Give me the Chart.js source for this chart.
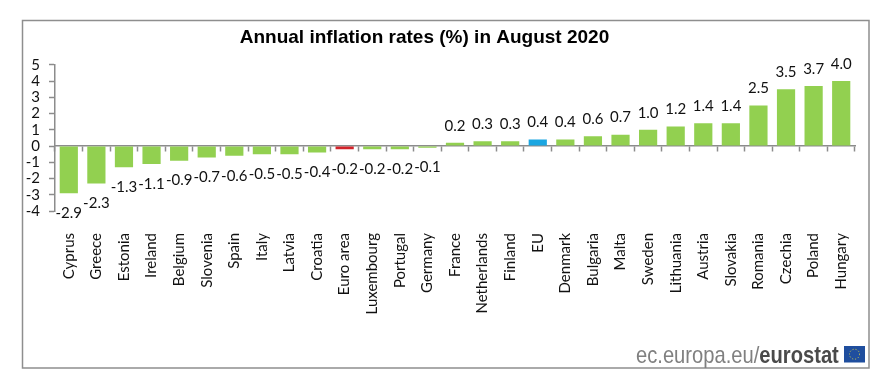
<!DOCTYPE html>
<html lang="en">
<head>
  <meta charset="UTF-8" />
  <title>Annual inflation rates</title>
  <script src="https://cdn.jsdelivr.net/npm/chart.js"></script>
  <style>
    body { margin: 0; padding: 0; background: #fff; }
    canvas { display: block; }
  </style>
</head>
<body>
  <canvas id="chart" width="891" height="388"></canvas>

  <script>
    const countries = ['Cyprus', 'Greece', 'Estonia', 'Ireland', 'Belgium', 'Slovenia', 'Spain', 'Italy', 'Latvia', 'Croatia',
      'Euro area', 'Luxembourg', 'Portugal', 'Germany', 'France', 'Netherlands', 'Finland', 'EU', 'Denmark', 'Bulgaria',
      'Malta', 'Sweden', 'Lithuania', 'Austria', 'Slovakia', 'Romania', 'Czechia', 'Poland', 'Hungary'];
    const rates = [-2.9, -2.3, -1.3, -1.1, -0.9, -0.7, -0.6, -0.5, -0.5, -0.4,
      -0.2, -0.2, -0.2, -0.1, 0.2, 0.3, 0.3, 0.4, 0.4, 0.6,
      0.7, 1.0, 1.2, 1.4, 1.4, 2.5, 3.5, 3.7, 4.0];
    const barColors = countries.map(c => c === 'Euro area' ? '#D2232A' : c === 'EU' ? '#1BA6E1' : '#92D050');

    const font = 'Lato, sans-serif';
    const axisGrey = '#8C8C8C';

    // frame, eurostat logo, value labels
    const extras = {
      id: 'extras',
      afterLayout(chart) {
        // the title sits left of the frame centre in the original
        chart.titleBlock.right -= 6;
      },
      beforeDraw(chart) {
        const ctx = chart.ctx;
        ctx.save();
        ctx.strokeStyle = '#8E8E8E';
        ctx.lineWidth = 1.5;
        ctx.strokeRect(22.5, 20.5, 846.5, 347.5);

        // logo text is condensed in the original
        ctx.save();
        ctx.translate(636, 363);
        ctx.scale(0.84, 1);
        ctx.textBaseline = 'alphabetic';
        ctx.textAlign = 'left';
        ctx.fillStyle = '#808080';
        ctx.font = '24px "Liberation Sans"';
        const first = 'ec.europa.eu/';
        ctx.fillText(first, 0, 0);
        const w = ctx.measureText(first).width;
        ctx.fillStyle = '#4A4A4A';
        ctx.font = 'bold 24px "Liberation Sans"';
        ctx.fillText('eurostat', w, 0);
        ctx.restore();

        ctx.fillStyle = '#1F4E9E';
        ctx.fillRect(844, 346, 21, 16.5);
        ctx.strokeStyle = '#D8D24A';
        ctx.lineWidth = 1;
        ctx.setLineDash([1, 2]);
        ctx.beginPath();
        ctx.arc(854.5, 354.2, 5, 0, Math.PI * 2);
        ctx.stroke();
        ctx.restore();
      },
      afterDatasetsDraw(chart) {
        const ctx = chart.ctx;
        const bars = chart.getDatasetMeta(0).data;
        ctx.save();
        ctx.font = '15px ' + font;
        ctx.fillStyle = '#111';
        ctx.textAlign = 'center';
        ctx.textBaseline = 'middle';
        bars.forEach((bar, i) => {
          const v = rates[i];
          ctx.fillText(v.toFixed(1), bar.x, bar.y + (v < 0 ? 20 : -17));
        });
        ctx.restore();
      }
    };

    new Chart(document.getElementById('chart'), {
      type: 'bar',
      data: {
        labels: countries,
        datasets: [{
          data: rates,
          backgroundColor: barColors,
          categoryPercentage: 1,
          barPercentage: 0.66
        }]
      },
      options: {
        responsive: false,
        animation: false,
        layout: { padding: { top: 26, right: 36, left: 0, bottom: 0 } },
        plugins: {
          legend: { display: false },
          tooltip: { enabled: false },
          title: {
            display: true,
            text: 'Annual inflation rates (%) in August 2020',
            color: '#000',
            font: { family: '"Liberation Sans"', size: 19, weight: 'bold' },
            padding: { top: 0, bottom: 16 }
          }
        },
        scales: {
          x: {
            position: 'bottom',
            grid: { display: false },
            border: { display: false },
            ticks: {
              autoSkip: false,
              minRotation: 90,
              maxRotation: 90,
              padding: 14,
              color: '#111',
              font: { family: font, size: 15 }
            },
            afterFit(scale) { scale.height = 177; }
          },
          // zero line with the tick marks between the bars
          x2: {
            type: 'category',
            labels: countries,
            position: { y: 0 },
            offset: true,
            ticks: { display: false },
            border: { color: axisGrey, width: 1.5 },
            grid: { offset: true, drawOnChartArea: false, tickLength: 5, tickColor: axisGrey, tickWidth: 1.5 }
          },
          y: {
            min: -4,
            max: 5,
            grid: { drawOnChartArea: false, tickLength: 6, tickColor: axisGrey, tickWidth: 1.5 },
            border: { color: axisGrey, width: 1.5 },
            ticks: {
              autoSkip: false,
              stepSize: 1,
              padding: 9,
              color: '#111',
              font: { family: font, size: 15 }
            },
            afterFit(scale) { scale.width = 55; }
          }
        }
      },
      plugins: [extras]
    });
  </script>
</body>
</html>
